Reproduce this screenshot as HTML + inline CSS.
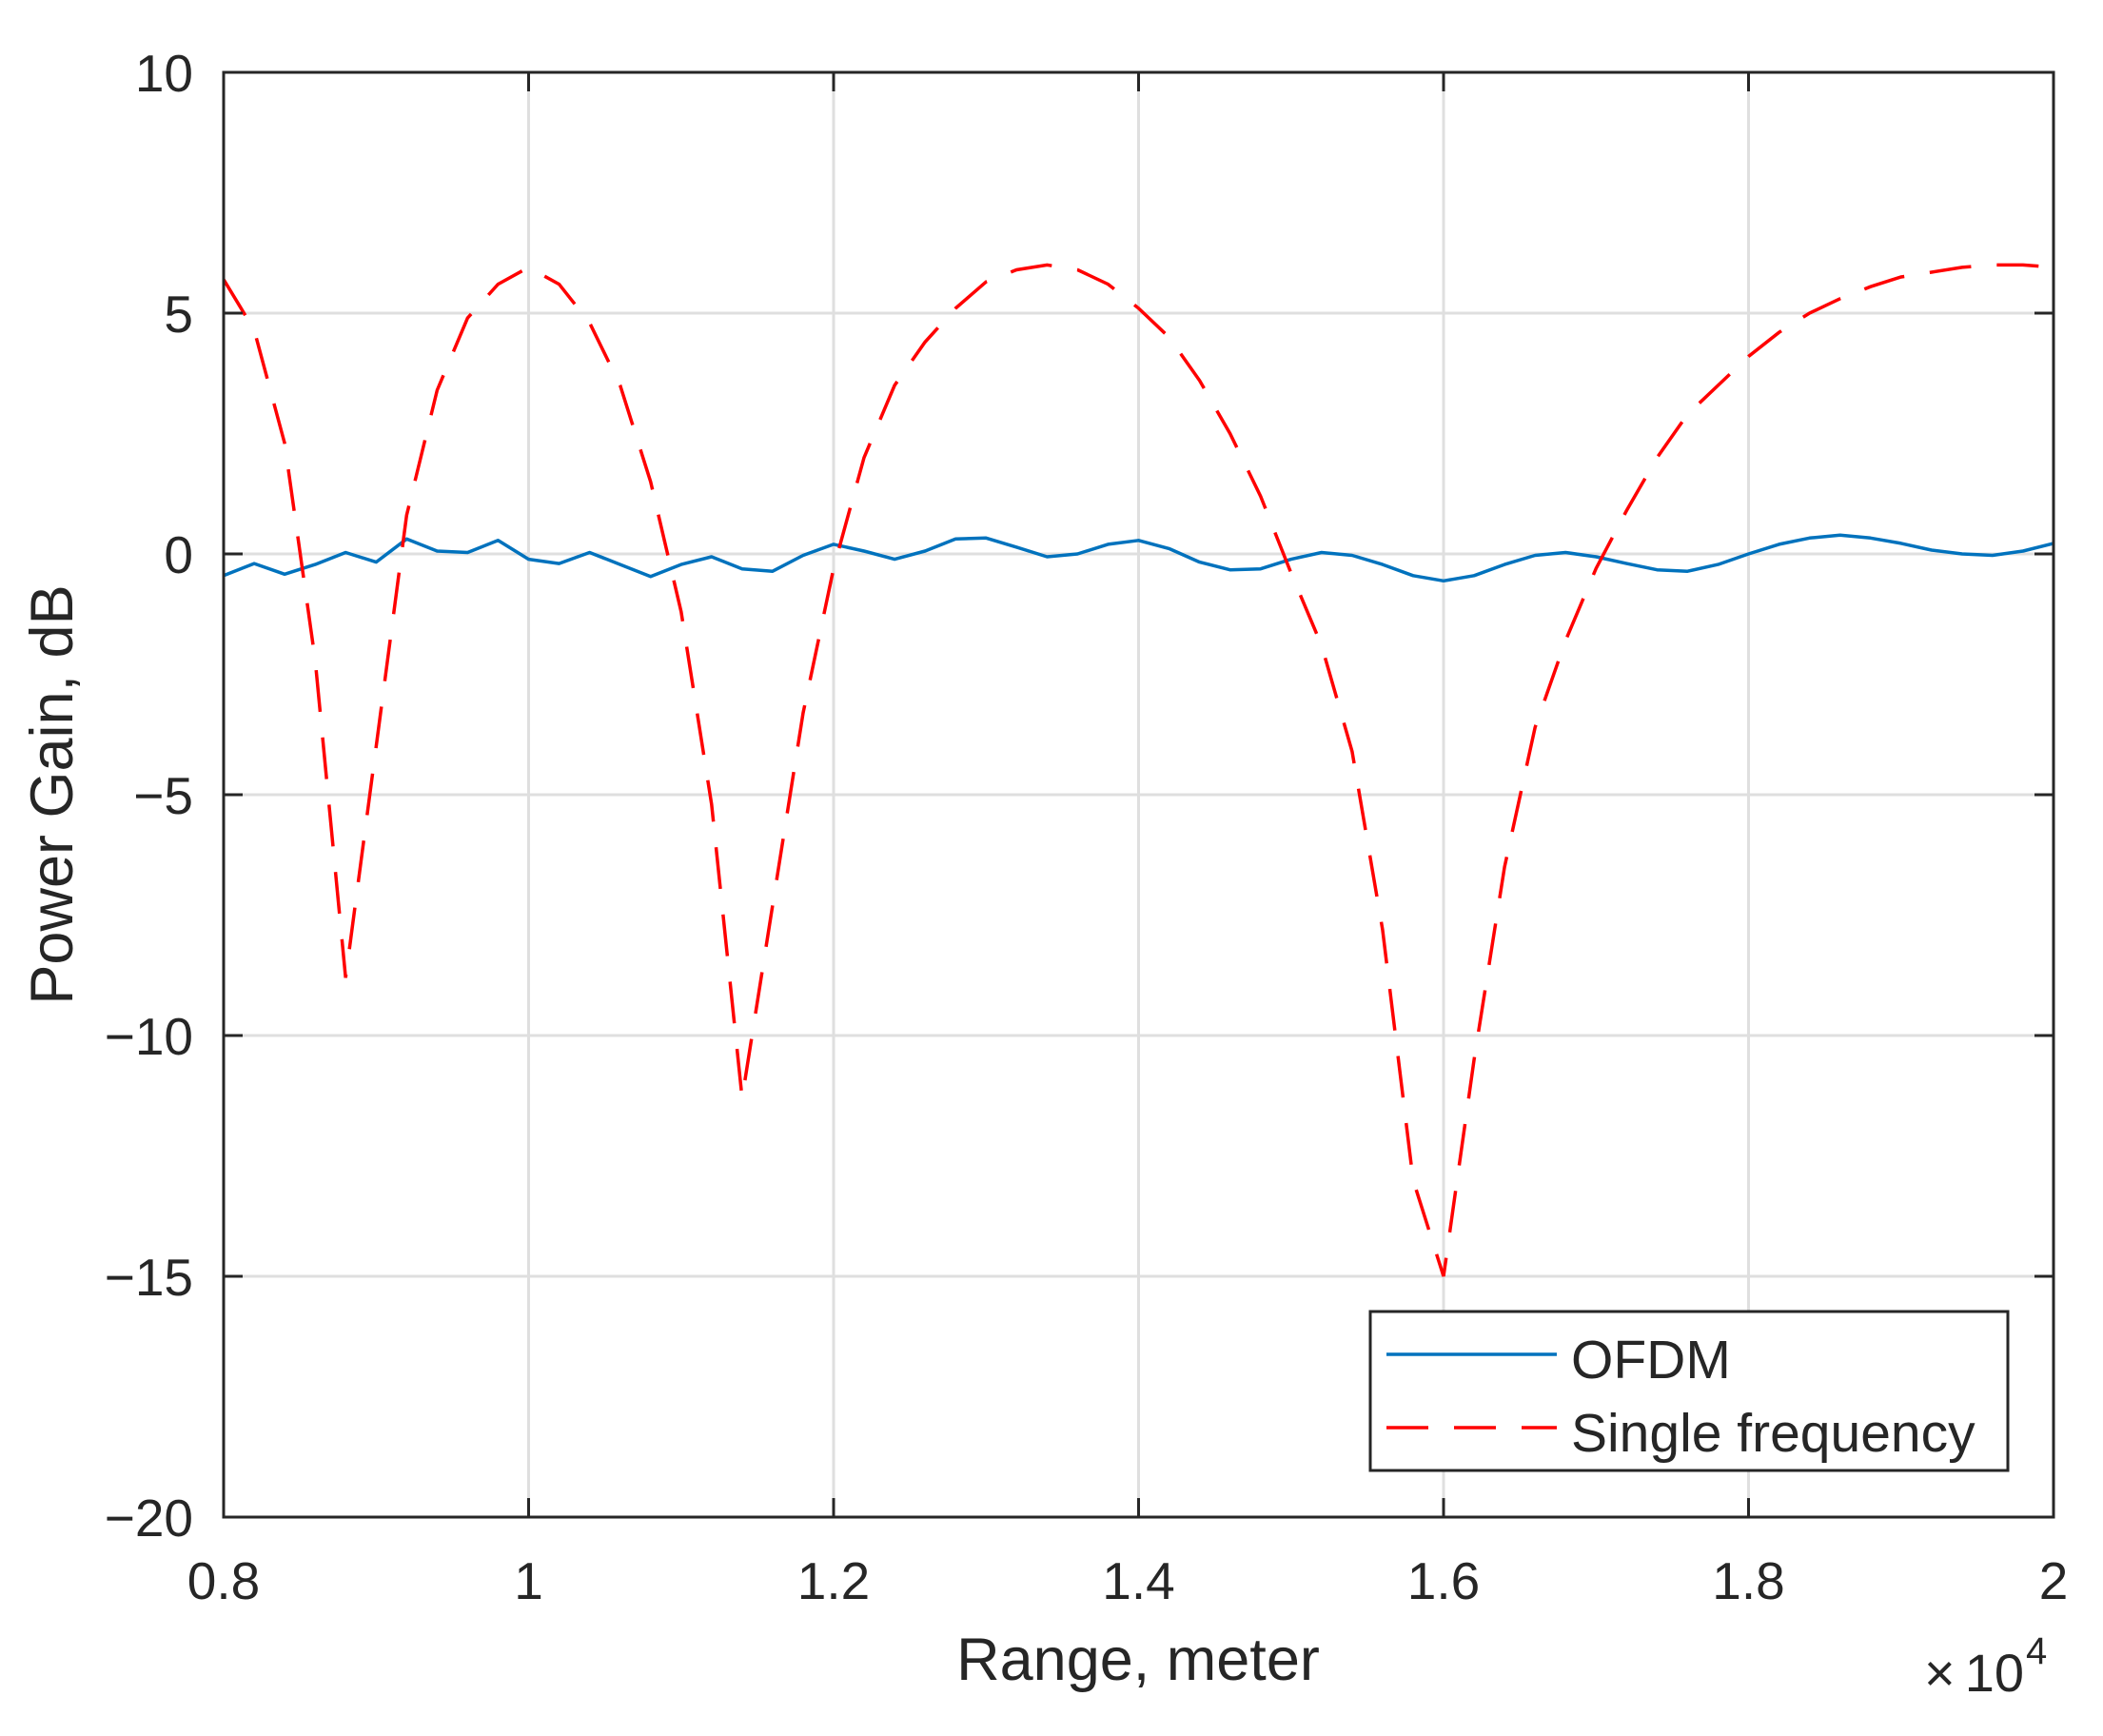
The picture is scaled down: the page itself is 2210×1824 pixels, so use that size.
<!DOCTYPE html>
<html><head><meta charset="utf-8"><style>
html,body{margin:0;padding:0;background:#fff;}
svg{display:block;}
text{font-family:"Liberation Sans",Arial,sans-serif;fill:#262626;}
</style></head><body>
<svg id="s" width="2210" height="1824" viewBox="0 0 2210 1824" xmlns="http://www.w3.org/2000/svg">
<rect width="2210" height="1824" fill="#fff"/>
<g id="grid" stroke="#dfdfdf" stroke-width="3"></g>
<g id="series"></g>
<g id="axes" stroke="#262626" stroke-width="3" fill="none"></g>
<g id="labels" font-size="55"></g>
<text x="1196" y="1765" font-size="63" text-anchor="middle">Range, meter</text>
<text transform="translate(76,835) rotate(-90)" font-size="63" text-anchor="middle">Power Gain, dB</text>
<text x="2022" y="1777" font-size="56">×</text>
<text x="2127" y="1777" font-size="56" text-anchor="end">10</text>
<text x="2129" y="1748" font-size="40">4</text>
<rect x="1440" y="1378" width="670" height="167" fill="#fff" stroke="#262626" stroke-width="3"/>
<line x1="1457" y1="1423" x2="1636" y2="1423" stroke="#0072BD" stroke-width="3.5"/>
<line x1="1457" y1="1500" x2="1636" y2="1500" stroke="#ff0000" stroke-width="3.5" stroke-dasharray="44,27"/>
<text x="1651" y="1448" font-size="57">OFDM</text>
<text x="1651" y="1525" font-size="57">Single frequency</text>
</svg>
<script>
const L=235,R=2158,T=76,B=1594;
const X=v=>L+(v-0.8)/1.2*(R-L), Y=v=>T+(10-v)/30*(B-T);
const ns="http://www.w3.org/2000/svg";
function el(p,n,a,t){const e=document.createElementNS(ns,n);for(const k in a)e.setAttribute(k,a[k]);if(t!=null)e.textContent=t;document.getElementById(p).appendChild(e);return e;}
const xt=[0.8,1,1.2,1.4,1.6,1.8,2],xl=["0.8","1","1.2","1.4","1.6","1.8","2"];
const yt=[10,5,0,-5,-10,-15,-20],yl=["10","5","0","\u22125","\u221210","\u221215","\u221220"];
xt.forEach((v,i)=>{const x=X(v);
 if(i>0&&i<6)el("grid","line",{x1:x,y1:T,x2:x,y2:B});
 el("axes","line",{x1:x,y1:B,x2:x,y2:B-20});el("axes","line",{x1:x,y1:T,x2:x,y2:T+20});
 el("labels","text",{x:x,y:1680,"text-anchor":"middle"},xl[i]);});
yt.forEach((v,i)=>{const y=Y(v);
 if(i>0&&i<6)el("grid","line",{x1:L,y1:y,x2:R,y2:y});
 el("axes","line",{x1:L,y1:y,x2:L+20,y2:y});el("axes","line",{x1:R,y1:y,x2:R-20,y2:y});
 el("labels","text",{x:203,y:y+20,"text-anchor":"end"},yl[i]);});
el("axes","rect",{x:L,y:T,width:R-L,height:B-T});
const b=[-0.45,-0.2,-0.42,-0.22,0.03,-0.17,0.31,0.06,0.03,0.28,-0.11,-0.2,0.03,-0.22,-0.47,-0.22,-0.06,-0.31,-0.36,-0.03,0.2,0.06,-0.11,0.06,0.31,0.33,0.14,-0.06,0,0.2,0.28,0.11,-0.17,-0.33,-0.31,-0.11,0.03,-0.03,-0.22,-0.45,-0.56,-0.45,-0.22,-0.03,0.03,-0.06,-0.2,-0.33,-0.36,-0.22,0,0.2,0.33,0.39,0.33,0.22,0.08,0,-0.03,0.06,0.22];
const rd=[5.7,4.65,2.3,-2.2,-8.8,-4.0,0.8,3.4,4.9,5.6,5.95,5.6,4.8,3.5,1.5,-1.2,-5.2,-11.3,-7.3,-3.3,-0.3,2.0,3.5,4.4,5.1,5.65,5.9,6.0,5.9,5.6,5.1,4.5,3.6,2.5,1.2,-0.4,-1.9,-4.1,-7.8,-13.0,-15.0,-10.5,-6.5,-3.6,-1.8,-0.3,0.9,2.0,2.9,3.5,4.1,4.6,5.0,5.3,5.55,5.75,5.85,5.95,6.0,6.0,5.95];
let pb=[],pr=[];
for(let i=0;i<=60;i++){const r=0.8+i*0.02;
 pr.push(X(r).toFixed(1)+","+Y(rd[i]).toFixed(1));pb.push(X(r).toFixed(1)+","+Y(b[i]).toFixed(1));}
el("series","polyline",{points:pb.join(" "),fill:"none",stroke:"#0072BD","stroke-width":3.5,"stroke-linejoin":"round"});
el("series","polyline",{points:pr.join(" "),fill:"none",stroke:"#ff0000","stroke-width":3.5,"stroke-dasharray":"44,27"});
</script>
</body></html>
